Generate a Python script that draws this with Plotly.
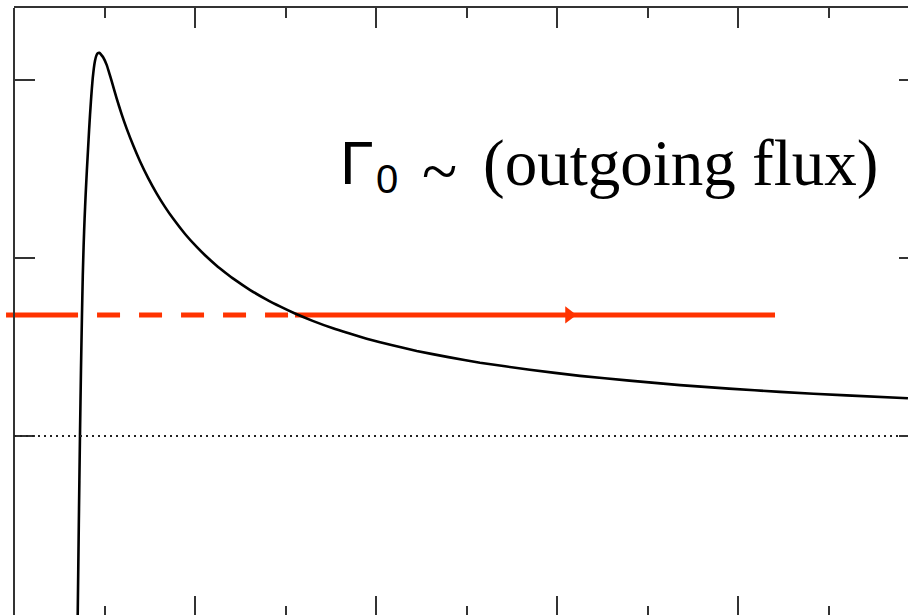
import plotly.graph_objects as go

# ---- data ----
CURVE_X = [0.700, 0.704, 0.716, 0.729, 0.740, 0.751, 0.760, 0.770, 0.780, 0.792, 0.805, 0.818,
           0.830, 0.840, 0.850, 0.860, 0.870, 0.882, 0.895, 0.910, 0.925, 0.943, 0.962, 0.985,
           1.024, 1.050, 1.080, 1.135, 1.190, 1.245, 1.320, 1.392, 1.480, 1.577, 1.670, 1.760,
           1.890, 2.019, 2.120, 2.230, 2.340, 2.431, 2.610, 2.792, 2.950, 3.105, 3.300, 3.525,
           3.700, 3.897, 4.170, 4.450, 4.800, 5.149, 5.700, 6.254, 6.800, 7.359, 7.900, 8.464,
           9.200, 9.878]
CURVE_Y = [-1.150, -1.006, -0.500, 0.000, 0.370, 0.680, 0.900, 1.080, 1.220, 1.360, 1.490, 1.610,
           1.720, 1.805, 1.880, 1.950, 2.010, 2.065, 2.108, 2.137, 2.150, 2.153, 2.143, 2.128,
           2.085, 2.043, 1.992, 1.895, 1.807, 1.727, 1.629, 1.544, 1.452, 1.362, 1.286, 1.220,
           1.135, 1.062, 1.011, 0.961, 0.916, 0.881, 0.820, 0.766, 0.725, 0.688, 0.647, 0.605,
           0.577, 0.547, 0.511, 0.478, 0.443, 0.412, 0.372, 0.338, 0.311, 0.286, 0.266, 0.248,
           0.228, 0.212]
ZERO_X = [0.0, 9.878]
ZERO_Y = [0.0, 0.0]
FLUX_LEVEL = 0.680
FLUX_DASHED_X = [-0.088, 3.105]
FLUX_SOLID_X = [3.105, 8.409]
FLUX_ARROW_X = [6.133]
Y_TICKS = [0, 1, 2]

X_RANGE_MAIN = [-0.1547, 9.8785]
X_RANGE = [0.0, 9.8785]
Y_RANGE = [-1.0056, 2.4045]

RED = "#FF3300"
AX = "#333333"

fig = go.Figure()

# curve
fig.add_trace(go.Scatter(x=CURVE_X, y=CURVE_Y, mode="lines", xaxis="x2", yaxis="y",
                         line=dict(color="black", width=2.6, shape="spline", smoothing=0.5),
                         hoverinfo="skip"))
# zero line (dotted)
fig.add_trace(go.Scatter(x=ZERO_X, y=ZERO_Y, mode="lines", xaxis="x3", yaxis="y2",
                         line=dict(color="#222222", width=2, dash="2px,4px"), hoverinfo="skip"))
# outgoing flux line
fig.add_trace(go.Scatter(x=FLUX_DASHED_X, y=[FLUX_LEVEL] * 2, mode="lines", xaxis="x", yaxis="y",
                         line=dict(color=RED, width=5,
                                   dash="72px,19px,23px,19px,23px,19px,23px,19px,23px,19px,23px,7px"),
                         hoverinfo="skip"))
fig.add_trace(go.Scatter(x=FLUX_SOLID_X, y=[FLUX_LEVEL] * 2, mode="lines", xaxis="x", yaxis="y",
                         line=dict(color=RED, width=5), hoverinfo="skip"))
fig.add_trace(go.Scatter(x=FLUX_ARROW_X, y=[FLUX_LEVEL], mode="markers", xaxis="x", yaxis="y",
                         marker=dict(symbol="triangle-right", size=15, color=RED, line=dict(width=0)),
                         hoverinfo="skip"))

W, H = 908, 615
TOP = 8
left_frac = 14 / W

fig.update_layout(
    width=W, height=H,
    margin=dict(l=0, r=0, t=TOP, b=0, pad=0),
    paper_bgcolor="white", plot_bgcolor="rgba(0,0,0,0)",
    showlegend=False,
    xaxis=dict(domain=[0, 1], range=X_RANGE_MAIN, visible=False, fixedrange=True),
    xaxis2=dict(domain=[left_frac, 1], range=X_RANGE, anchor="y", side="top",
                showline=True, linecolor=AX, linewidth=2, mirror=False,
                ticks="inside", ticklen=20, tickwidth=2, tickcolor=AX,
                tick0=0, dtick=2, showticklabels=False, showgrid=False, zeroline=False,
                minor=dict(ticks="inside", ticklen=10, tickwidth=2, tickcolor=AX,
                           tick0=0, dtick=1, showgrid=False)),
    xaxis3=dict(domain=[left_frac, 1], range=X_RANGE, anchor="y", side="bottom",
                showline=False,
                ticks="inside", ticklen=19, tickwidth=2, tickcolor=AX,
                tick0=0, dtick=2, showticklabels=False, showgrid=False, zeroline=False,
                minor=dict(ticks="inside", ticklen=9, tickwidth=2, tickcolor=AX,
                           tick0=0, dtick=1, showgrid=False)),
    yaxis=dict(domain=[0, 1], range=Y_RANGE, anchor="free", position=left_frac,
               showline=True, linecolor=AX, linewidth=2,
               ticks="inside", ticklen=20, tickwidth=2, tickcolor=AX,
               tickvals=Y_TICKS, showticklabels=False, showgrid=False, zeroline=False),
    yaxis2=dict(range=Y_RANGE, overlaying="y", anchor="free", position=1, side="right",
                showline=False,
                ticks="inside", ticklen=9, tickwidth=2, tickcolor=AX,
                tickvals=Y_TICKS, showticklabels=False, showgrid=False, zeroline=False),
)

plot_h = H - TOP


def px(xp):
    return xp / W


def py(yp):
    return (H - yp) / plot_h


SANS = "Liberation Sans, Arial, sans-serif"
SERIF = "Liberation Serif, Times New Roman, serif"

fig.add_annotation(text="Γ", x=px(338), y=py(163), xref="paper", yref="paper",
                   xanchor="left", yanchor="middle", showarrow=False,
                   font=dict(family=SANS, size=61, color="black"))
fig.add_annotation(text="0", x=px(374), y=py(179), xref="paper", yref="paper",
                   xanchor="left", yanchor="middle", showarrow=False,
                   font=dict(family=SANS, size=40, color="black"))
fig.add_annotation(text="~", x=px(420), y=py(171), xref="paper", yref="paper",
                   xanchor="left", yanchor="middle", showarrow=False,
                   font=dict(family=SERIF, size=65, color="black"))
fig.add_annotation(text="(outgoing flux)", x=px(481), y=py(163), xref="paper", yref="paper",
                   xanchor="left", yanchor="middle", showarrow=False,
                   font=dict(family=SERIF, size=65, color="black"))

fig.write_html("out.html", config=dict(displayModeBar=False))
